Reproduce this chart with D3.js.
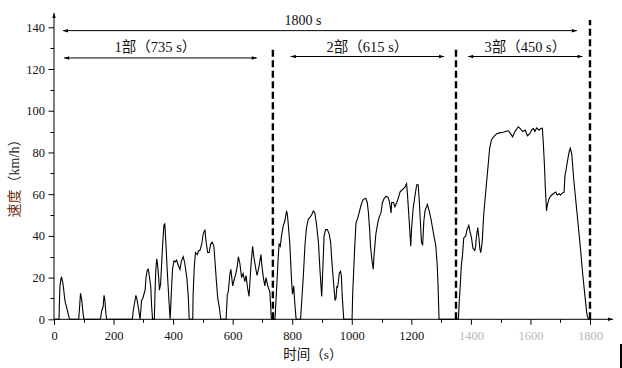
<!DOCTYPE html>
<html>
<head>
<meta charset="utf-8">
<script src="https://cdn.jsdelivr.net/npm/d3@7"></script>
<style>
  html, body { margin: 0; padding: 0; background: #fff; }
  svg { display: block; }
</style>
</head>
<body>
<svg id="chart"></svg>
<script>
// 行驶工况：时间 (s) 与 速度 (km/h)
const timeS = [
  0, 17, 18, 20, 23, 25, 29, 32, 35, 38, 42, 47, 52,
  83, 86, 89, 91, 93, 96, 100,
  156, 160, 165, 168, 171, 174, 177,
  263, 266, 272, 275, 278, 284, 289, 292, 294, 298, 302, 306, 309, 313, 316, 318, 325, 328, 331,
  337, 339, 342, 345, 348, 352, 354, 358, 362, 365, 369, 372, 376, 380, 386, 390,
  392, 395, 398, 403, 407, 412, 417, 423, 428, 434, 439, 446, 451, 454,
  466, 467, 471, 475, 481, 486, 490, 496, 501, 507, 510, 516, 521, 526, 531, 537, 541, 546, 550, 555, 560,
  578, 582, 585, 591, 594, 600, 605, 611, 616, 619, 624, 630, 635, 641, 645, 650, 655, 658, 662, 667, 671,
  678, 682, 688, 695, 698, 703, 708, 712, 718, 725, 728, 730,
  742, 747, 753, 756, 760, 764, 770, 775, 781, 784, 787, 792, 798, 801, 805, 808, 813,
  828, 837, 843, 848, 854, 860, 865, 871, 876, 882, 888, 893, 899, 903, 907, 912, 918, 924, 929, 933, 938,
  944, 947, 950, 952, 955, 958, 962, 965, 968, 973,
  1001, 1003, 1009, 1014, 1021, 1028, 1034, 1039, 1047, 1052, 1056, 1060, 1063, 1068, 1072, 1075, 1081,
  1087, 1092, 1098, 1103, 1109, 1115, 1122, 1127, 1132, 1134, 1140, 1145, 1151, 1156, 1162, 1168, 1173,
  1179, 1184, 1187, 1192, 1198, 1201, 1206, 1212, 1218, 1223, 1227, 1231, 1234, 1238, 1242, 1246, 1254,
  1260, 1266, 1271, 1277, 1282, 1287, 1290, 1293,
  1358, 1361, 1365, 1368, 1372, 1376, 1383, 1387, 1393, 1397, 1402, 1407, 1413, 1416, 1418, 1423, 1427,
  1430, 1433, 1438, 1443, 1451, 1458, 1463, 1469, 1476, 1487, 1498, 1509, 1515, 1526, 1531, 1540, 1548,
  1559, 1565, 1574, 1582, 1590, 1598, 1603, 1610, 1615, 1621, 1629, 1635, 1640, 1643, 1647, 1650, 1654,
  1657, 1663, 1671, 1679, 1685, 1690, 1696, 1701, 1707, 1713, 1716, 1719, 1724, 1730, 1734, 1739, 1745,
  1755, 1766, 1776, 1785, 1790, 1795, 1800
];
const speedKmh = [
  0, 0, 7, 16, 19, 20.4, 18, 15, 11, 8, 6, 3, 0,
  0, 6, 12.5, 11, 9.5, 5, 0,
  0, 4, 6, 11.5, 9, 3, 0,
  0, 4, 9, 11.5, 10, 5, 0, 5, 9, 10, 12, 14, 20, 23.5, 24, 23, 15.6, 6, 0,
  0, 12, 24, 29, 26, 19, 14, 17, 28, 36, 45, 46, 36, 24, 9, 0,
  6, 15.6, 24, 28, 27.5, 28.4, 26, 24, 28, 30, 27, 20, 11, 0,
  0, 11, 25, 32, 31, 33, 33, 36, 41, 43, 38, 32, 32, 36, 37, 35, 27, 17, 10, 6, 0,
  0, 12, 13, 22, 24, 16, 19, 22, 26, 30, 27, 20, 22, 18, 21, 15, 11, 18, 27, 35, 30,
  24, 21, 25, 31, 26, 20, 16, 20, 16, 13, 5, 0,
  0, 13, 30, 36, 35, 40, 45, 47, 52, 50, 45, 36, 18, 12, 16, 9, 0,
  0, 20, 36, 44, 48, 49, 50, 52, 51, 45, 37, 24, 11, 25, 40, 43, 43, 41, 37, 28, 19,
  9, 10, 16, 15, 18, 22, 23, 21, 11, 0,
  0, 12, 32, 46, 49, 53, 56, 57.5, 58, 56, 51, 43, 35, 28, 24, 31, 41,
  46, 49, 51, 56, 58, 59, 58.5, 56, 51, 56, 56, 54, 56, 58, 61, 62, 62.5,
  63.5, 65, 60, 49, 35, 44, 53, 59, 64.5, 64.5, 56, 45, 37, 35.5, 47, 52, 55,
  52, 48, 44, 39, 35.5, 26, 15, 0,
  0, 8.5, 18, 26, 31, 39, 40, 43, 45, 42, 39, 34, 33, 35, 39, 44, 39,
  34, 32, 37, 50, 63, 74, 82, 86, 87.5, 89, 89.5, 89.7, 90, 90.4, 89.5, 87.5, 90,
  92.3, 91.5, 90, 90.7, 88, 89, 90.5, 91.5, 90, 91.8, 90.7, 91.5, 91.6, 85, 74, 63, 52,
  55, 58, 59.6, 60.4, 61, 59.6, 60.2, 59.6, 60.5, 61, 69, 71, 75.6, 80.4, 82, 79, 67.6,
  53, 37, 21, 8.5, 2, 0, 0
];

const yTicks = [0, 20, 40, 60, 80, 100, 120, 140];
const xTicks = [0, 200, 400, 600, 800, 1000, 1200, 1400, 1600, 1800];
const fadedXTicks = [1400, 1600, 1800];

// 分段边界 (s) 以及标注
const phaseBounds = [735, 1350, 1800];
const phaseTops = [130.5, 130, 143.5];
const phaseLabels = ["1部（735 s）", "2部（615 s）", "3部（450 s）"];
const phaseArrowFrom = [34, 795, 1391];
const phaseArrowTo = [681, 1310, 1775];
const totalLabel = "1800 s";
const totalArrow = [30, 1756];

const W = 622, H = 368;
const serif = "'Liberation Serif', 'Times New Roman', 'Noto Sans CJK SC', serif";

const svg = d3.select("#chart").attr("width", W).attr("height", H);

const x = d3.scaleLinear().domain([0, 1800]).range([54, 590]);
const y = d3.scaleLinear().domain([0, 140]).range([319.3, 27.3]);

// 箭头
const defs = svg.append("defs");
defs.append("marker")
  .attr("id", "arrow")
  .attr("viewBox", "0 0 10 10")
  .attr("refX", 10).attr("refY", 5)
  .attr("markerWidth", 6).attr("markerHeight", 5)
  .attr("markerUnits", "userSpaceOnUse")
  .attr("orient", "auto-start-reverse")
  .append("path").attr("d", "M0,1.5 L10,5 L0,8.5 Z").attr("fill", "#000");

// 速度曲线
const pts = timeS.map((t, i) => [t, speedKmh[i]]);
svg.append("path")
  .datum(pts)
  .attr("fill", "none")
  .attr("stroke", "#000")
  .attr("stroke-width", 1.1)
  .attr("stroke-linejoin", "miter")
  .attr("d", d3.line().x(d => x(d[0])).y(d => y(d[1])));

// 坐标轴
const yMinor = d3.range(10, 141, 20);
const xMinor = d3.range(100, 1800, 200);

const yAxis = svg.append("g").attr("transform", "translate(54,0)");
yAxis.selectAll(".minor").data(yMinor).enter().append("line")
  .attr("x1", -3.5).attr("x2", 0)
  .attr("y1", d => Math.round(y(d)) + 0.5).attr("y2", d => Math.round(y(d)) + 0.5)
  .attr("stroke", "#000");
yAxis.call(d3.axisLeft(y).tickValues(yTicks).tickFormat(d3.format("d")).tickSize(5.5).tickPadding(3.5))
  .call(g => g.select(".domain").remove())
  .call(g => g.selectAll("text").attr("font-family", serif).attr("font-size", 12.5).attr("fill", "#111"));
yAxis.append("line")
  .attr("x1", 0).attr("x2", 0).attr("y1", y(0)).attr("y2", 13)
  .attr("stroke", "#000").attr("marker-end", "url(#arrow)");

const xAxis = svg.append("g").attr("transform", `translate(0,${y(0)})`);
xAxis.selectAll(".minor").data(xMinor).enter().append("line")
  .attr("x1", d => Math.round(x(d)) + 0.5).attr("x2", d => Math.round(x(d)) + 0.5)
  .attr("y1", 0).attr("y2", 3.5)
  .attr("stroke", "#000");
xAxis.call(d3.axisBottom(x).tickValues(xTicks).tickFormat(d3.format("d")).tickSize(5.5).tickPadding(6))
  .call(g => g.select(".domain").remove())
  .call(g => g.selectAll("text")
    .attr("font-family", serif).attr("font-size", 12.5)
    .attr("fill", d => fadedXTicks.includes(d) ? "#b8b8b8" : "#111"));
xAxis.append("line")
  .attr("x1", 54).attr("x2", 613).attr("y1", 0).attr("y2", 0)
  .attr("stroke", "#000").attr("marker-end", "url(#arrow)");

// 分段虚线
svg.selectAll(".phase-line").data(phaseBounds).enter().append("line")
  .attr("class", "phase-line")
  .attr("x1", d => x(d)).attr("x2", d => x(d))
  .attr("y1", y(0)).attr("y2", (d, i) => y(phaseTops[i]))
  .attr("stroke", "#000")
  .attr("stroke-width", 2.4)
  .attr("stroke-dasharray", "7,3.5");

// 总时长标注
svg.append("line")
  .attr("x1", x(totalArrow[0])).attr("x2", x(totalArrow[1]))
  .attr("y1", y(138.4)).attr("y2", y(138.4))
  .attr("stroke", "#000")
  .attr("marker-start", "url(#arrow)").attr("marker-end", "url(#arrow)");
svg.append("text")
  .attr("x", 303).attr("y", 25)
  .attr("text-anchor", "middle")
  .attr("font-family", serif).attr("font-size", 14)
  .attr("fill", "#111")
  .text(totalLabel);

// 各部分标注
phaseLabels.forEach((label, i) => {
  const yy = i === 0 ? 125.3 : 126;
  svg.append("line")
    .attr("x1", x(phaseArrowFrom[i])).attr("x2", x(phaseArrowTo[i]))
    .attr("y1", y(yy)).attr("y2", y(yy))
    .attr("stroke", "#000")
    .attr("marker-start", "url(#arrow)").attr("marker-end", "url(#arrow)");
  svg.append("text")
    .attr("x", (x(phaseArrowFrom[i]) + x(phaseArrowTo[i])) / 2 - (i === 0 ? 5 : 0))
    .attr("y", 51.5)
    .attr("text-anchor", "middle")
    .attr("font-family", serif).attr("font-size", 14.5)
    .attr("fill", "#111")
    .text(label);
});

// 轴标题
svg.append("text")
  .attr("x", 313).attr("y", 359)
  .attr("text-anchor", "middle")
  .attr("font-family", serif).attr("font-size", 13.5)
  .attr("fill", "#111")
  .text("时间（s）");

const yTitle = svg.append("text")
  .attr("transform", "translate(19,175) rotate(-90)")
  .attr("text-anchor", "middle")
  .attr("font-family", serif).attr("font-size", 14);
yTitle.append("tspan").attr("fill", "#6e2c14").text("速度");
yTitle.append("tspan").attr("fill", "#222").text("（km/h）");

// 右下角的竖线
svg.append("rect")
  .attr("x", 620).attr("y", 344).attr("width", 2).attr("height", 24)
  .attr("fill", "#000");
</script>
</body>
</html>
